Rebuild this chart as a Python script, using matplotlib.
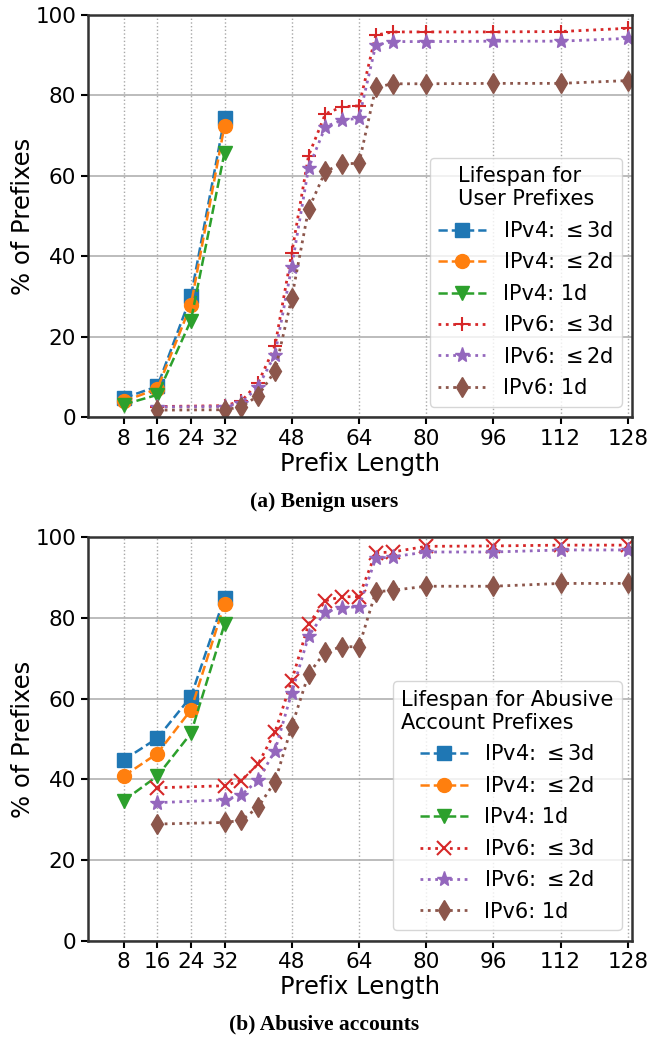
import numpy as np
import matplotlib.pyplot as plt

# x positions of the measured prefix lengths
x_v4 = [8, 16, 24, 32]
x_v6 = [16, 32, 36, 40, 44, 48, 52, 56, 60, 64, 68, 72, 80, 96, 112, 128]

# (a) benign users
benign_v4_3d = [4.7, 7.6, 30.0, 74.4]
benign_v4_2d = [3.9, 7.0, 27.9, 72.5]
benign_v4_1d = [3.1, 5.5, 24.0, 65.8]
benign_v6_3d = [2.6, 2.8, 3.9, 8.5, 17.6, 40.8, 65.0, 75.4, 77.2, 77.4, 95.0, 95.8, 95.8, 95.8, 95.9, 96.7]
benign_v6_2d = [2.5, 2.6, 3.5, 7.5, 15.5, 37.4, 61.9, 72.2, 73.9, 74.3, 92.5, 93.4, 93.4, 93.5, 93.5, 94.2]
benign_v6_1d = [1.7, 1.8, 2.5, 5.3, 11.4, 29.6, 51.7, 61.1, 63.0, 63.1, 82.0, 82.9, 82.9, 83.0, 83.0, 83.7]

# (b) abusive accounts
abusive_v4_3d = [44.8, 50.2, 60.5, 85.1]
abusive_v4_2d = [40.8, 46.4, 57.2, 83.6]
abusive_v4_1d = [34.7, 40.8, 51.4, 78.5]
abusive_v6_3d = [37.9, 38.4, 39.7, 43.8, 51.7, 64.5, 78.5, 84.3, 85.3, 85.3, 96.2, 96.4, 97.8, 97.9, 98.1, 98.1]
abusive_v6_2d = [34.2, 34.9, 36.1, 39.8, 47.1, 61.5, 75.5, 81.6, 82.6, 82.8, 94.8, 95.2, 96.4, 96.4, 96.9, 96.9]
abusive_v6_1d = [28.9, 29.3, 29.8, 33.1, 39.4, 53.1, 66.1, 71.7, 72.9, 72.9, 86.5, 86.9, 87.9, 87.9, 88.6, 88.6]

labels = [r'IPv4: $\leq$3d', r'IPv4: $\leq$2d', 'IPv4: 1d',
          r'IPv6: $\leq$3d', r'IPv6: $\leq$2d', 'IPv6: 1d']
colors = ['C0', 'C1', 'C2', 'C3', 'C4', 'C5']
xticks = [8, 16, 24, 32, 48, 64, 80, 96, 112, 128]

fs = 15
fig = plt.figure(figsize=(6.49, 10.38), dpi=100)
ax1 = fig.add_axes([0.1356, 0.5983, 0.8382, 0.3872])
ax2 = fig.add_axes([0.1356, 0.0939, 0.8382, 0.3883])


def draw(ax, v4, v6, v6_3d_marker, title):
    v4_markers = ['s', 'o', 'v']
    v6_markers = [v6_3d_marker, '*', 'd']
    for i in range(3):
        ax.plot(x_v4, v4[i], linestyle='--', marker=v4_markers[i], color=colors[i],
                markersize=10, linewidth=1.8, label=labels[i])
    for i in range(3):
        ms = 11 if i == 1 else 10
        ax.plot(x_v6, v6[i], linestyle=':', marker=v6_markers[i], color=colors[i + 3],
                markersize=ms, linewidth=2, markeredgewidth=1.5 if i == 0 else 1,
                label=labels[i + 3])
    ax.set_xlim(-0.5, 129)
    ax.set_ylim(0, 100)
    ax.set_xticks(xticks)
    ax.set_yticks([0, 20, 40, 60, 80, 100])
    ax.tick_params(labelsize=15.5, width=1.5, length=5)
    ax.grid(axis='y', color='#b0b0b0', linewidth=1.2)
    ax.grid(axis='x', color='#a8a8a8', linestyle=':', linewidth=1)
    ax.set_axisbelow(True)
    for s in ax.spines.values():
        s.set_linewidth(1.8)
        s.set_color('#333333')
    ax.set_xlabel('Prefix Length', fontsize=17.5, labelpad=2)
    ax.set_ylabel('% of Prefixes', fontsize=17.5, labelpad=0)
    ax.legend(title=title, loc='lower right', fontsize=fs, title_fontsize=fs,
              handlelength=2.3, labelspacing=0.55)


draw(ax1, [benign_v4_3d, benign_v4_2d, benign_v4_1d],
     [benign_v6_3d, benign_v6_2d, benign_v6_1d], '+',
     'Lifespan for\nUser Prefixes')
draw(ax2, [abusive_v4_3d, abusive_v4_2d, abusive_v4_1d],
     [abusive_v6_3d, abusive_v6_2d, abusive_v6_1d], 'x',
     'Lifespan for Abusive\nAccount Prefixes')

fig.text(0.5, 1 - 502 / 1038, '(a) Benign users', ha='center', va='center',
         fontsize=15.5, fontweight='bold', family='Liberation Serif')
fig.text(0.5, 1 - 1024 / 1038, '(b) Abusive accounts', ha='center', va='center',
         fontsize=15.5, fontweight='bold', family='Liberation Serif')

plt.savefig('out.png', dpi=100)
